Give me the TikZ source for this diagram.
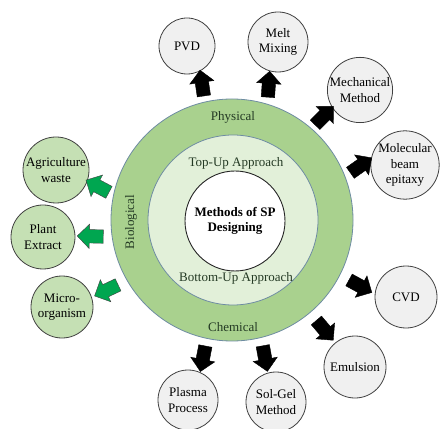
\documentclass[tikz,border=0pt]{standalone}
\usepackage{fontspec}
\setmainfont{Liberation Serif}
\usetikzlibrary{shapes.arrows}
\definecolor{ringGreen}{RGB}{169,209,142}
\definecolor{ringPale}{RGB}{226,240,217}
\definecolor{ringEdge}{RGB}{110,140,162}
\definecolor{satGrey}{RGB}{240,240,240}
\definecolor{satEdge}{RGB}{64,64,64}
\definecolor{bioFill}{RGB}{197,224,180}
\definecolor{bioArrow}{RGB}{0,166,80}
\definecolor{labelInk}{RGB}{36,58,36}
\newcommand{\SatFont}{\fontsize{13}{15.5}\selectfont}

\begin{document}
\begin{tikzpicture}[x=1pt,y=1pt,
  sat/.style={circle,draw=satEdge,line width=0.8pt,fill=satGrey,inner sep=0pt,outer sep=0pt,align=center,font=\SatFont},
  disc/.style={circle,draw=ringEdge,line width=0.8pt,inner sep=0pt,outer sep=0pt},
  fatarrow/.style={single arrow,fill=black,draw=black,line width=0.4pt,inner xsep=0pt,inner ysep=6.5pt,
    minimum height=26pt,single arrow head extend=5.5pt,
    sloped,allow upside down,midway},
  ringlabel/.style={font=\SatFont,text=labelInk}]
  \useasboundingbox (0,0) rectangle (443,428);
  % rings
  \node[disc,fill=ringGreen,minimum size=242pt] (ring) at (232,208) {};
  \node[disc,fill=ringPale,minimum size=170pt] (band) at (233,208) {};
  \node[circle,draw=black!85,line width=0.9pt,fill=white,minimum size=100pt,inner sep=0pt,
    align=center,font=\bfseries\SatFont] (core) at (235,207) {Methods of SP\\Designing};
  \node[ringlabel] (phys) at (233,311) {Physical};
  \node[ringlabel] (chem) at (233,101) {Chemical};
  \node[ringlabel,rotate=90] (bio) at (131,206) {Biological};
  \node[ringlabel] (topup) at (236,265) {Top-Up Approach};
  \node[ringlabel] (botup) at (236,150) {Bottom-Up Approach};
  % physical and chemical methods
  \foreach \nm/\px/\py/\d/\txt in {pvd/187/382/56/PVD, melt/278/386/60/{Melt\\Mixing},
      mech/360/338/64/{Mechanical\\Method}, mbe/405/263/64/{Molecular\\beam\\epitaxy},
      cvd/406/131/62/CVD, emul/355/61/62/Emulsion, solgel/276/26/60/{Sol-Gel\\Method},
      plasma/188/28/60/{Plasma\\Process}}{
    \node[sat,minimum size=\d pt] (\nm) at (\px,\py) {\txt};
  }
  % biological methods
  \foreach \nm/\px/\py/\d/\txt in {agri/56/258/66/{Agriculture\\waste},
      plant/43/191/64/{Plant\\Extract}, micro/62/121/62/{Micro-\\organism}}{
    \node[sat,fill=bioFill,minimum size=\d pt] (\nm) at (\px,\py) {\txt};
  }
  % arrows
  \foreach \nm/\a/\b in {pvd/103/298, melt/73/254, mech/49/212, mbe/21/168,
      cvd/333/175, emul/310/129, solgel/284/106, plasma/258/66}{
    \path (ring.\a) -- (\nm.\b) node[fatarrow] {};
  }
  \foreach \nm/\a/\b in {agri/168/341, plant/188/2, micro/210/18}{
    \path (ring.\a) -- (\nm.\b) node[fatarrow,fill=bioArrow,draw=black!75] {};
  }
\end{tikzpicture}
\end{document}
